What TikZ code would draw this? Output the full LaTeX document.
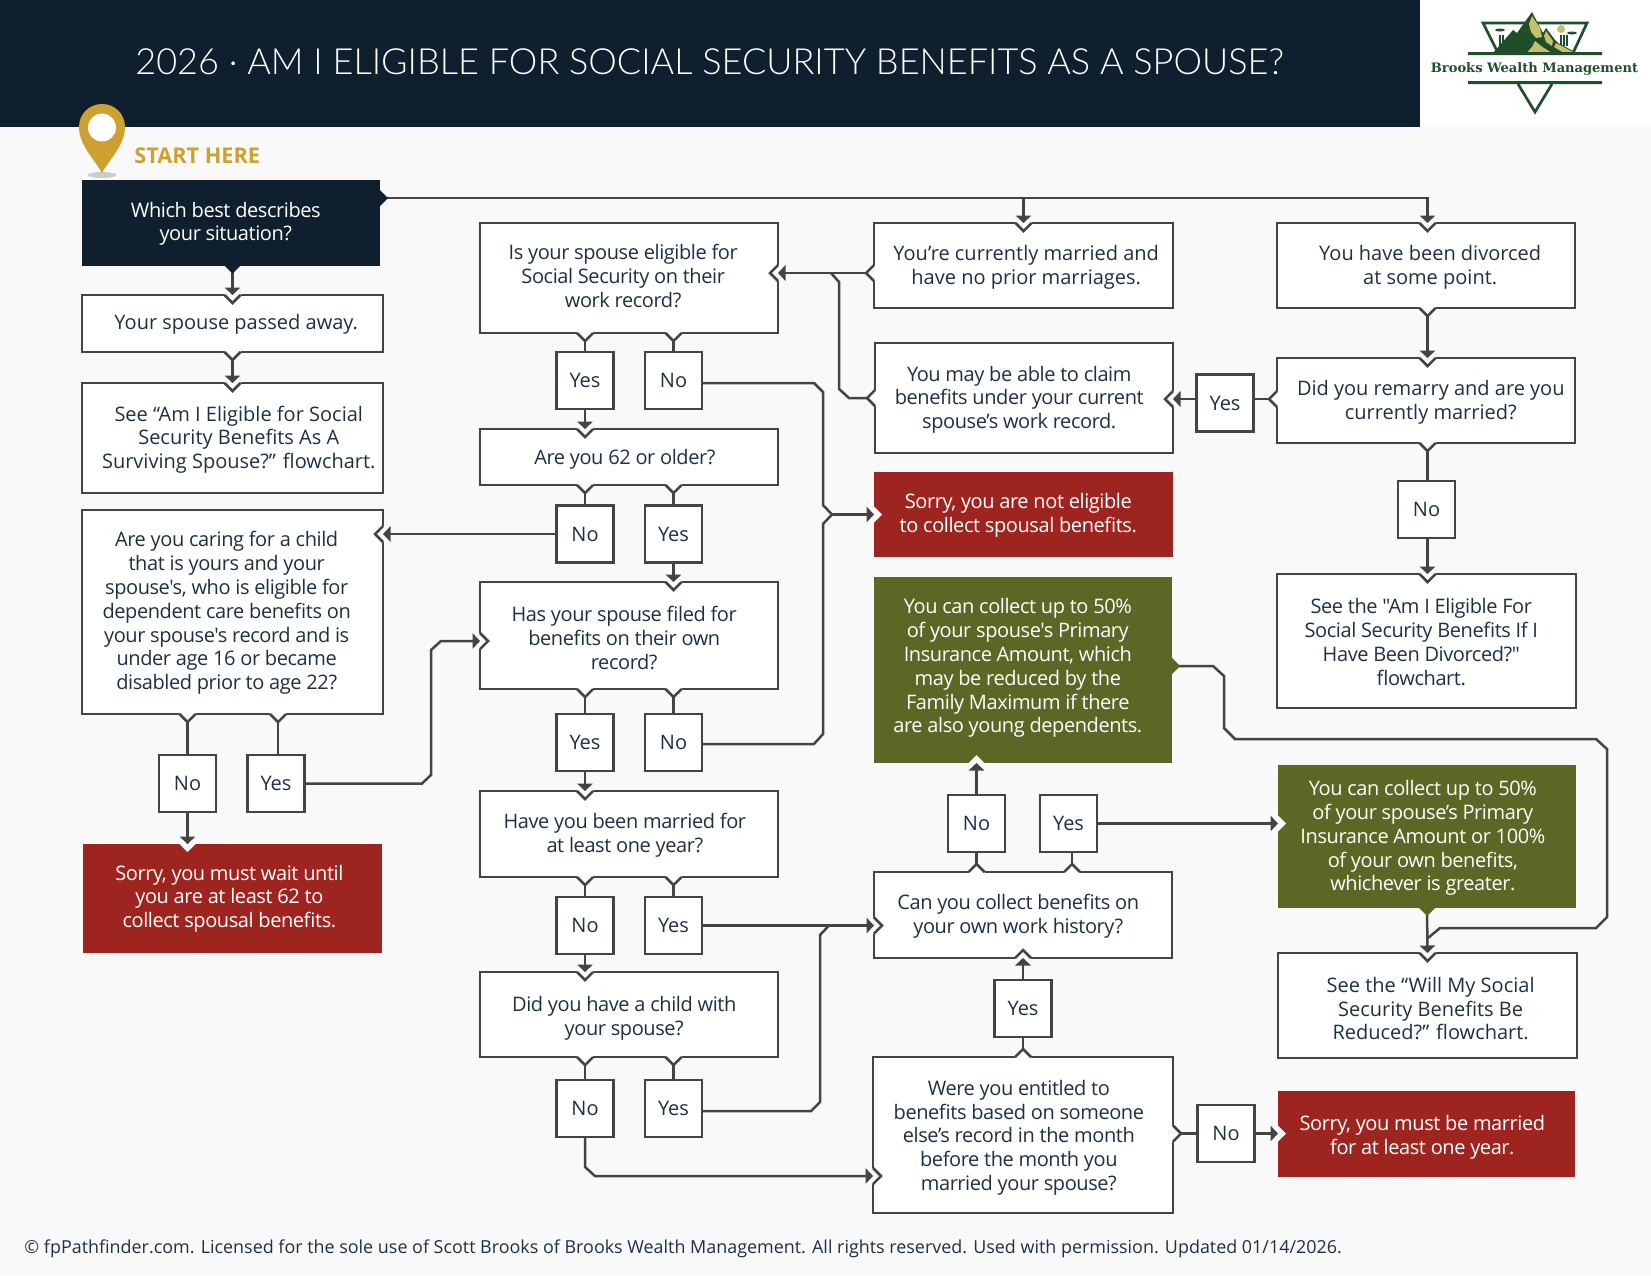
\documentclass[tikz,border=0pt]{standalone}
\usepackage{fontspec}
\setmainfont{Open Sans}
\newfontfamily\tightfont{Open Sans}[LetterSpace=-2.1]
\newfontfamily\titlefont{Lato Light}
\newfontfamily\logofont{DejaVu Serif}
\usetikzlibrary{arrows.meta}
\definecolor{navy}{HTML}{0F1F2E}
\definecolor{redbox}{HTML}{9E2420}
\definecolor{greenbox}{HTML}{5B6825}
\definecolor{gold}{HTML}{CDA02F}
\definecolor{pagebg}{HTML}{F9F9F9}
\definecolor{edge}{HTML}{444444}
\definecolor{inktext}{HTML}{1E3044}
\definecolor{logogreen}{HTML}{1F4F2A}
\definecolor{logotan}{HTML}{C7BE6E}
\newcommand{\nudge}[3]{\kern#1pt\raisebox{#2pt}[\height][\depth]{\begin{tabular}{@{}c@{}}#3\end{tabular}}\kern-#1pt}
\tikzset{
	wh/.style 2 args={minimum width=#1*.48pt,minimum height=#2*.48pt},
	plain/.style={inner sep=0pt,outer sep=0pt,font=\fontsize{9.6}{11.45}\selectfont},
	tight/.style={font=\tightfont\fontsize{9.6}{11.45}\selectfont},
	box/.style={plain,draw=edge,line width=1.2pt,fill=white,text=inktext},
	tag/.style={box,wh={57}{57}},
	navybox/.style={plain,fill=navy,text=white},
	redfill/.style={plain,fill=redbox,text=white},
	greenfill/.style={plain,fill=greenbox,text=white},
	link/.style={draw=edge,line width=1.2pt},
	arr/.style={link,-{Triangle[width=7.4pt,length=3.6pt]}},
	pics/notch/.style 2 args={code={
		\fill[#1] (-8,-1.4) -- (8,-1.4) -- (8,0) -- (0,8) -- (-8,0) -- cycle;
		\path[draw=#2,line width=1.2pt] (-8,0) -- (0,8) -- (8,0);
	}}
}
\begin{document}
\begin{tikzpicture}[x=.48pt,y=-.48pt]
\useasboundingbox (0,0) rectangle (1651,1275);
\fill[pagebg] (0,0) rectangle (1651,1275);
\fill[navy] (0,0) rectangle (1420,127);
\fill[white] (1420,0) rectangle (1651,127);
\node (title) at (135,74) [anchor=base west,inner sep=0pt,text=white,font=\titlefont\fontsize{17.3}{20}\selectfont] {2026 · AM I ELIGIBLE FOR SOCIAL SECURITY BENEFITS AS A SPOUSE?};

% logo
\draw[logogreen,line width=1.3pt] (1498,53) -- (1483,23) -- (1587,23) -- (1573,53);
\fill[logotan] (1561,29) circle (4);
\fill[logogreen] (1500,30) ellipse (5 and 1.5) (1572,33) ellipse (5 and 1.5);
\foreach \x in {1500,1503,1561,1564,1567} {
	\draw[logogreen,line width=.7pt] (\x,35) -- (\x,46);
}
\fill[logogreen] (1493,53) -- (1513,30) -- (1517,33) -- (1532,12) -- (1543,33) -- (1546,28) -- (1555,40) -- (1558,43) -- (1577,53) -- cycle;
\fill[logotan] (1532,16) -- (1540,28) -- (1542,37) -- (1536,38) -- (1531,32) -- (1529,24) -- cycle;
\fill[logotan] (1535,41) -- (1541,46) -- (1551,52.5) -- (1527,52.5) -- (1532,47) -- cycle;
\fill[logotan] (1546,31) -- (1553,41) -- (1552,46) -- (1546,42) -- (1544,36) -- cycle;
\fill[logotan] (1556,43) -- (1574,52.5) -- (1563,52.5) -- (1554,47) -- cycle;
\fill[logogreen] (1468,52) rectangle (1602,55) (1468,81) rectangle (1602,84);
\draw[logogreen,line width=1.3pt] (1518,84) -- (1535,112) -- (1552,84);
\node (logoname) at (1534.5,69) [inner sep=0pt,text=logogreen,font=\logofont\bfseries\fontsize{6.25}{8}\selectfont] {Brooks Wealth Management};

% start pin
\fill[black!20] (102,175) ellipse (14.5 and 3);
\fill[gold] (102,173) .. controls (95,160) and (79,145) .. (79,127) .. controls (79,114) and (89,104) .. (102,104) .. controls (115,104) and (125,114) .. (125,127) .. controls (125,145) and (109,160) .. (102,173) -- cycle;
\fill[white] (102,127.5) circle (14);
\node (start) at (134,163.5) [anchor=base west,inner sep=0pt,text=gold,font=\bfseries\fontsize{10.4}{12}\selectfont] {START HERE};

% left column
\node (which) at (231,222.75) [navybox,tight,wh={298}{85.5}] {\nudge{-2.5}{-.7}{Which best describes\\your situation?}};
\node (passed) at (232.5,323.5) [box,wh={301}{57}] {\nudge{1.8}{-.5}{Your spouse passed away.}};
\node (surv) at (232.5,438) [box,wh={301}{110}] {\nudge{3}{-1}{See “Am I Eligible for Social\\Security Benefits As A\\Surviving Spouse?” flowchart.}};
\node (caring) at (232.5,612) [box,tight,wh={301}{204}] {\nudge{-2.8}{-.7}{Are you caring for a child\\that is yours and your\\spouse's, who is eligible for\\dependent care benefits on\\your spouse's record and is\\under age 16 or became\\disabled prior to age 22?}};
\node (waitred) at (232.5,898.5) [redfill,tight,wh={299}{109}] {\nudge{-1.5}{-.3}{Sorry, you must wait until\\you are at least 62 to\\collect spousal benefits.}};
\node (careno) at (187.5,783.5) [tag] {No};
\node (careyes) at (276,783.5) [tag] {Yes};

% middle column
\node (isrec) at (629,278) [box,tight,wh={298}{110}] {\nudge{-2.8}{-.5}{Is your spouse eligible for\\Social Security on their\\work record?}};
\node (age) at (629,457) [box,tight,wh={298}{56}] {\nudge{-2}{-1.5}{Are you 62 or older?}};
\node (filed) at (629,635.5) [box,tight,wh={298}{107}] {\nudge{-2.3}{-2.4}{Has your spouse filed for\\benefits on their own\\record?}};
\node (year) at (629,834) [box,tight,wh={298}{86}] {\nudge{-2}{-1}{Have you been married for\\at least one year?}};
\node (child) at (629,1014.5) [box,tight,wh={298}{85}] {\nudge{-2.3}{-2}{Did you have a child with\\your spouse?}};
\node (recyes) at (585,380.5) [tag] {Yes};
\node (recno) at (673.5,380.5) [tag] {No};
\node (ageno) at (585,534) [tag] {No};
\node (ageyes) at (673.5,534) [tag] {Yes};
\node (filedyes) at (585,742.5) [tag] {Yes};
\node (filedno) at (673.5,742.5) [tag] {No};
\node (yearno) at (585,925.5) [tag] {No};
\node (yearyes) at (673.5,925.5) [tag] {Yes};
\node (childno) at (585,1108.5) [tag] {No};
\node (childyes) at (673.5,1108.5) [tag] {Yes};

% third column
\node (curr) at (1023.5,265.5) [box,wh={299}{85}] {\nudge{1.3}{-1.2}{You’re currently married and\\have no prior marriages.}};
\node (claim) at (1024,398) [box,tight,wh={298}{110}] {\nudge{-2.3}{-1}{You may be able to claim\\benefits under your current\\spouse’s work record.}};
\node (noelig) at (1023.5,514.5) [redfill,tight,wh={299}{85}] {\nudge{-2.5}{-.5}{Sorry, you are not eligible\\to collect spousal benefits.}};
\node (half) at (1023,670) [greenfill,tight,wh={298}{186}] {\nudge{-2.5}{.7}{You can collect up to 50\%\\of your spouse's Primary\\Insurance Amount, which\\may be reduced by the\\Family Maximum if there\\are also young dependents.}};
\node (ownrec) at (1023,915) [box,tight,wh={298}{86}] {\nudge{-2.3}{-1}{Can you collect benefits on\\your own work history?}};
\node (were) at (1023,1135) [box,tight,wh={300}{156}] {\nudge{-2}{-1.5}{Were you entitled to\\benefits based on someone\\else’s record in the month\\before the month you\\married your spouse?}};
\node (ownno) at (976.5,823.5) [tag] {No};
\node (ownyes) at (1068.5,823.5) [tag] {Yes};
\node (wereyes) at (1023,1008.5) [tag] {Yes};
\node (wereno) at (1226,1133.5) [tag] {No};
\node (claimyes) at (1225,403) [tag] {Yes};

% right column
\node (divor) at (1426,265.5) [box,wh={298}{85}] {\nudge{2}{-1.2}{You have been divorced\\at some point.}};
\node (remar) at (1426,400.5) [box,wh={298}{85}] {\nudge{2.3}{-1}{Did you remarry and are you\\currently married?}};
\node (seediv) at (1426.5,641) [box,tight,wh={299}{134}] {\nudge{-2.5}{-1.7}{See the "Am I Eligible For\\Social Security Benefits If I\\Have Been Divorced?"\\flowchart.}};
\node (best) at (1427,836.5) [greenfill,tight,wh={298}{143}] {\nudge{-2}{-.9}{You can collect up to 50\%\\of your spouse’s Primary\\Insurance Amount or 100\%\\of your own benefits,\\whichever is greater.}};
\node (seered) at (1427.5,1005.5) [box,wh={299}{105}] {\nudge{1.5}{-2.8}{See the “Will My Social\\Security Benefits Be\\Reduced?” flowchart.}};
\node (marry) at (1426.5,1134) [redfill,tight,wh={297}{86}] {\nudge{-2}{-1.7}{Sorry, you must be married\\for at least one year.}};
\node (remno) at (1426.5,509.5) [tag] {No};

\node (foot) at (24,1253) [anchor=base west,inner sep=0pt,text=inktext,font=\fontsize{8.6}{10}\selectfont] {© fpPathfinder.com. Licensed for the sole use of Scott Brooks of Brooks Wealth Management. All rights reserved. Used with permission. Updated 01/14/2026.};

\coordinate (busstart) at (which.east |- 0,198);
\coordinate (rstem) at (1427.5,0);
\coordinate (ystem) at (1072,0);
\coordinate (cstem) at (278,0);
\coordinate (isin) at (isrec.east |- 0,273);
\coordinate (currout) at (curr.west |- 0,273);
\coordinate (filedin) at (filed.west |- 0,641);
\coordinate (redjoin) at (832,514.5);
\coordinate (ownin) at (ownrec.west |- yearyes.east);
\coordinate (werein) at (were.west |- 0,1176);
\coordinate (halfout) at (half.east |- 0,666);
\coordinate (claimin) at (claim.east |- 0,399);
\coordinate (remout) at (remar.west |- 0,399);
\coordinate (carein) at (caring.east |- ageno.west);

% notches on the way in
\foreach \p/\a in {passed.north/0,surv.north/0,age.north -| recyes/0,filed.north -| ageyes/0,year.north -| filedyes/0,child.north -| yearno/0,curr.north/0,divor.north -| rstem/0,remar.north -| rstem/0,seediv.north -| rstem/0,seered.north/0,carein/-90,isin/-90,claimin/-90,filedin/90,ownin/90,werein/90,ownrec.south/180} {
	\pic[rotate=\a] at (\p) {notch={pagebg}{edge}};
}
\foreach \p/\a in {waitred.north -| careno/0,noelig.west/90,best.west |- ownyes.east/90,marry.west |- wereno.east/90,half.south -| ownno/180} {
	\pic[rotate=\a] at (\p) {notch={pagebg}{none}};
}

% connectors
\draw[arr] (busstart) -- (busstart -| rstem) -- (divor.north -| rstem);
\draw[arr] (curr.north |- busstart) -- (curr.north);
\draw[arr] (which.south -| passed.north) -- (passed.north);
\draw[arr] (passed.south) -- (surv.north);
\draw[link] (caring.south -| careno) -- (careno.north);
\draw[link] (caring.south -| cstem) -- (careyes.north -| cstem);
\draw[arr] (careno.south) -- (waitred.north -| careno);
\draw[arr] (careyes.east) -- (422,783.5) -- (431,775) -- (431,650) -- (441,641) -- (filedin);
\draw[link] (isrec.south -| recyes) -- (recyes.north);
\draw[link] (isrec.south -| recno) -- (recno.north);
\draw[arr] (recyes.south) -- (age.north -| recyes);
\draw[link] (recno.east |- 0,383) -- (814,383) -- (823,392) -- (823,505) -- (redjoin);
\draw[arr] (redjoin) -- (noelig.west);
\draw[link] (age.south -| ageno) -- (ageno.north);
\draw[link] (age.south -| ageyes) -- (ageyes.north);
\draw[arr] (ageno.west) -- (carein);
\draw[arr] (ageyes.south) -- (filed.north -| ageyes);
\draw[link] (filed.south -| filedyes) -- (filedyes.north);
\draw[link] (filed.south -| filedno) -- (filedno.north);
\draw[arr] (filedyes.south) -- (year.north -| filedyes);
\draw[link] (filedno.east |- 0,744) -- (814,744) -- (823,734) -- (823,524) -- (redjoin);
\draw[link] (year.south -| yearno) -- (yearno.north);
\draw[link] (year.south -| yearyes) -- (yearyes.north);
\draw[arr] (yearno.south) -- (child.north -| yearno);
\draw[arr] (yearyes.east) -- (ownin);
\draw[link] (child.south -| childno) -- (childno.north);
\draw[link] (child.south -| childyes) -- (childyes.north);
\draw[link] (childyes.east |- 0,1111) -- (811,1111) -- (820,1102) -- (820,935) -- (829,925.5);
\draw[arr] (childno.south) -- (585,1167) -- (595,1176) -- (werein);
\draw[arr] (currout) -- (isin);
\draw[link] (claim.west) -- (849,398) -- (839,389) -- (839,282) -- (831,273);
\draw[arr] (claimyes.west |- claimin) -- (claimin);
\draw[link] (remout) -- (claimyes.east |- remout);
\draw[link] (ownrec.north -| ownno) -- (ownno.south);
\draw[link] (ownrec.north -| ystem) -- (ownyes.south -| ystem);
\draw[arr] (ownno.north) -- (half.south -| ownno);
\draw[arr] (ownyes.east) -- (best.west |- ownyes.east);
\draw[link] (wereyes.south) -- (were.north);
\draw[arr] (wereyes.north) -- (ownrec.south);
\draw[link] (were.east |- wereno.west) -- (wereno.west);
\draw[arr] (wereno.east) -- (marry.west |- wereno.east);
\draw[link] (halfout) -- (1213,666) -- (1224,676) -- (1224,728) -- (1235,739) -- (1596,739) -- (1607,749) -- (1607,917) -- (1596,928) -- (1440,928) -- (1428,938);
\draw[arr] (best.south) -- (seered.north);
\draw[arr] (divor.south -| rstem) -- (remar.north -| rstem);
\draw[link] (remar.south -| rstem) -- (remno.north -| rstem);
\draw[arr] (remno.south -| rstem) -- (seediv.north -| rstem);

% notches on the way out
\foreach \p/\a in {passed.south/0,caring.south -| careno/0,caring.south -| cstem/0,isrec.south -| recyes/0,isrec.south -| recno/0,age.south -| ageno/0,age.south -| ageyes/0,filed.south -| filedyes/0,filed.south -| filedno/0,year.south -| yearno/0,year.south -| yearyes/0,child.south -| childno/0,child.south -| childyes/0,divor.south -| rstem/0,remar.south -| rstem/0,currout/-90,claim.west/-90,remout/-90,ownrec.north -| ownno/180,ownrec.north -| ystem/180,were.north/180,were.east |- wereno.west/90} {
	\pic[rotate=\a] at (\p) {notch={white}{edge}};
}
\pic at (which.south -| passed.north) {notch={navy}{none}};
\pic[rotate=90] at (busstart) {notch={navy}{none}};
\pic at (best.south) {notch={greenbox}{none}};
\pic[rotate=90] at (halfout) {notch={greenbox}{none}};
\end{tikzpicture}
\end{document}
